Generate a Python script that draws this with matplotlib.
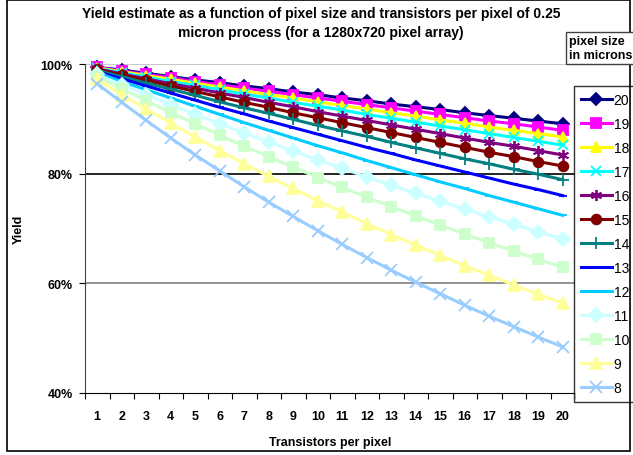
import matplotlib.pyplot as plt
import matplotlib.patches as patches

plt.rcParams['font.family'] = ['Liberation Sans', 'DejaVu Sans']

transistors = list(range(1, 21))
pixel_sizes = [20, 19, 18, 17, 16, 15, 14, 13, 12, 11, 10, 9, 8]

# yield (%) per pixel size, for 1..20 transistors per pixel
y20 = [99.4, 98.9, 98.3, 97.7, 97.1, 96.6, 96.0, 95.5, 94.9, 94.4, 93.8, 93.3, 92.7, 92.2, 91.7, 91.1, 90.6, 90.1, 89.6, 89.1]
y19 = [99.4, 98.7, 98.1, 97.5, 96.8, 96.2, 95.6, 95.0, 94.4, 93.8, 93.2, 92.6, 92.0, 91.4, 90.8, 90.2, 89.6, 89.1, 88.5, 87.9]
y18 = [99.3, 98.6, 97.9, 97.2, 96.5, 95.8, 95.1, 94.4, 93.8, 93.1, 92.4, 91.8, 91.1, 90.5, 89.8, 89.2, 88.5, 87.9, 87.3, 86.7]
y17 = [99.2, 98.4, 97.6, 96.8, 96.1, 95.3, 94.5, 93.8, 93.0, 92.3, 91.6, 90.8, 90.1, 89.4, 88.7, 88.0, 87.3, 86.6, 85.9, 85.2]
y16 = [99.1, 98.2, 97.3, 96.4, 95.6, 94.7, 93.9, 93.0, 92.2, 91.3, 90.5, 89.7, 88.9, 88.1, 87.3, 86.5, 85.7, 85.0, 84.2, 83.4]
y15 = [99.0, 98.0, 97.0, 96.0, 95.0, 94.0, 93.0, 92.1, 91.1, 90.2, 89.3, 88.4, 87.5, 86.6, 85.7, 84.8, 83.9, 83.1, 82.2, 81.4]
y14 = [98.8, 97.7, 96.5, 95.4, 94.3, 93.1, 92.0, 91.0, 89.9, 88.8, 87.8, 86.8, 85.7, 84.7, 83.7, 82.7, 81.8, 80.8, 79.9, 78.9]
y13 = [98.6, 97.3, 96.0, 94.7, 93.4, 92.1, 90.9, 89.6, 88.4, 87.2, 86.0, 84.8, 83.7, 82.5, 81.4, 80.3, 79.2, 78.1, 77.1, 76.0]
y12 = [98.4, 96.8, 95.3, 93.8, 92.3, 90.8, 89.3, 87.9, 86.5, 85.1, 83.8, 82.4, 81.1, 79.8, 78.5, 77.3, 76.0, 74.8, 73.6, 72.4]
y11 = [98.1, 96.2, 94.4, 92.6, 90.8, 89.1, 87.4, 85.8, 84.1, 82.5, 81.0, 79.4, 77.9, 76.4, 75.0, 73.5, 72.1, 70.8, 69.4, 68.1]
y10 = [97.7, 95.5, 93.3, 91.1, 89.1, 87.0, 85.0, 83.1, 81.2, 79.3, 77.5, 75.7, 74.0, 72.3, 70.6, 69.0, 67.4, 65.9, 64.4, 62.9]
y9 = [97.2, 94.4, 91.8, 89.2, 86.7, 84.2, 81.8, 79.5, 77.3, 75.1, 73.0, 70.9, 68.9, 67.0, 65.1, 63.2, 61.5, 59.7, 58.0, 56.4]
y8 = [96.4, 93.0, 89.7, 86.5, 83.4, 80.5, 77.6, 74.8, 72.2, 69.6, 67.1, 64.7, 62.4, 60.2, 58.1, 56.0, 54.0, 52.1, 50.2, 48.4]

series = [y20, y19, y18, y17, y16, y15, y14, y13, y12, y11, y10, y9, y8]

colors = ['#000080', '#FF00FF', '#FFFF00', '#00FFFF', '#800080', '#800000', '#008080',
          '#0000FF', '#00CCFF', '#CCFFFF', '#CCFFCC', '#FFFF99', '#99CCFF']
markers = ['D', 's', '^', 'x', (6, 2, 0), 'o', '+', '_', '_', 'D', 's', '^', 'x']
msizes = [6, 7, 7, 7, 8, 7, 8, 6, 6, 7, 7, 8, 8]

fig = plt.figure(figsize=(6.33, 4.56), dpi=100)
ax = fig.add_axes([85 / 633, 1 - 394 / 456, 490 / 633, 329 / 456])

for size, vals, c, m, ms in zip(pixel_sizes, series, colors, markers, msizes):
    ax.plot(transistors, vals, color=c, lw=2.2, marker=m, markersize=ms,
            markeredgecolor=c, markerfacecolor=c, markeredgewidth=1.3,
            label=str(size), clip_on=False, zorder=3)

ax.set_xlim(0.5, 20.5)
ax.set_ylim(40, 100)

# horizontal gridlines
ax.axhline(100, color='#c8c8c8', lw=1.5, zorder=1)
ax.axhline(80, color='black', lw=1.2, zorder=1)
ax.axhline(60, color='#808080', lw=1.2, zorder=1)

ax.set_yticks([40, 60, 80, 100])
ax.set_yticklabels(['40%', '60%', '80%', '100%'], fontsize=9, fontweight='bold')
ax.tick_params(axis='y', direction='out', length=4, pad=5)

# category ticks between labels
ax.set_xticks([i + 0.5 for i in range(0, 21)])
ax.set_xticklabels([])
ax.set_xticks(transistors, minor=True)
ax.set_xticklabels([str(t) for t in transistors], minor=True, fontsize=9, fontweight='bold')
ax.tick_params(axis='x', which='major', direction='out', length=4)
ax.tick_params(axis='x', which='minor', length=0, pad=12)

for s in ['top', 'right']:
    ax.spines[s].set_visible(False)
ax.spines['left'].set_color('#404040')
ax.spines['bottom'].set_color('black')

ax.set_xlabel('Transistors per pixel', fontsize=9, fontweight='bold', labelpad=10)
ax.set_ylabel('Yield', fontsize=9, fontweight='bold', labelpad=11)

fig.text(321 / 633, 1 - 7 / 456,
         'Yield estimate as a function of pixel size and transistors per pixel of 0.25\nmicron process (for a 1280x720 pixel array)',
         ha='center', va='top', fontsize=10, fontweight='bold', linespacing=1.45)

leg = ax.legend(loc='upper left', bbox_to_anchor=(574 / 633, 1 - 87 / 456),
                bbox_transform=fig.transFigure, borderaxespad=0, frameon=True,
                fancybox=False, edgecolor='black', fontsize=10, labelspacing=0.72,
                handlelength=2.2, handletextpad=0.15, borderpad=0.5)
leg.get_frame().set_linewidth(1.0)

# legend title box
fig.text(569 / 633, 1 - 49 / 456, 'pixel size\nin microns', ha='left', va='center',
         fontsize=9, fontweight='bold', linespacing=1.2,
         bbox=dict(boxstyle='square,pad=0.25', fc='white', ec='#404040', lw=1))

# chart area border
fig.patches.append(patches.Rectangle((7 / 633, 4 / 456), 623 / 633, 451 / 456,
                                     transform=fig.transFigure, fill=False,
                                     ec='black', lw=1.2))

fig.savefig('out.png', dpi=100)
